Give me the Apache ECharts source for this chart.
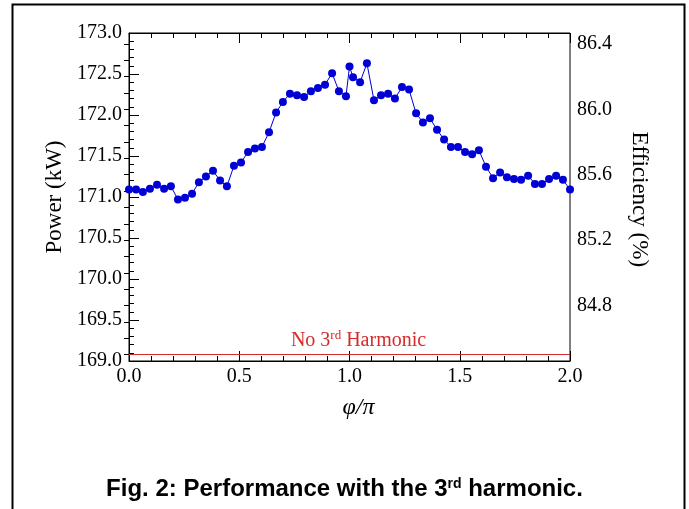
<!DOCTYPE html>
<html>
<head>
<meta charset="utf-8">
<script src="https://cdn.jsdelivr.net/npm/echarts@6/dist/echarts.min.js"></script>
<style>
html,body{margin:0;padding:0;background:#fff;}
#chart{width:689px;height:509px;}
</style>
</head>
<body>
<div id="chart"></div>
<script>
// phase angle phi/pi
const phi = [0.000, 0.032, 0.063, 0.095, 0.127, 0.159, 0.190, 0.222, 0.254, 0.286, 0.317, 0.349, 0.381, 0.413, 0.444, 0.476,
  0.508, 0.540, 0.571, 0.603, 0.635, 0.667, 0.698, 0.730, 0.762, 0.794, 0.825, 0.857, 0.889, 0.921, 0.952, 0.984,
  1.000,
  1.016, 1.048, 1.079, 1.111, 1.143, 1.175, 1.206, 1.238, 1.270, 1.302, 1.333, 1.365, 1.397, 1.429, 1.460,
  1.492, 1.524, 1.556, 1.587, 1.619, 1.651, 1.683, 1.714, 1.746, 1.778, 1.810, 1.841, 1.873, 1.905, 1.937, 1.968, 2.000];
// power (kW)
const power = [171.09, 171.09, 171.06, 171.10, 171.15, 171.10, 171.13, 170.97, 170.99, 171.04, 171.18, 171.25, 171.32, 171.20, 171.13, 171.38,
  171.42, 171.55, 171.59, 171.61, 171.79, 172.03, 172.16, 172.26, 172.24, 172.22, 172.29, 172.33, 172.37, 172.51, 172.29, 172.23,
  172.59,
  172.46, 172.40, 172.63, 172.18, 172.24, 172.26, 172.20, 172.34, 172.31, 172.02, 171.91, 171.96, 171.82, 171.70, 171.61,
  171.61, 171.55, 171.52, 171.57, 171.37, 171.23, 171.30, 171.24, 171.22, 171.21, 171.26, 171.16, 171.16, 171.22, 171.26, 171.21, 171.09];
// reference level without 3rd harmonic (kW)
const noHarmonic = 169.08;
// axis ranges
const xRange = [0, 2];
const powerRange = [169, 173];
const effRange = [84.5, 86.4];

const serif = '"Liberation Serif", "Times New Roman", serif';
const sans = '"Liberation Sans", Arial, sans-serif';
const red = '#d62a2a';
const blue = '#0000d4';

const chart = echarts.init(document.getElementById('chart'), null, {renderer: 'canvas'});
const tickCommon = {inside: true, lineStyle: {color: '#000', width: 1}};
const option = {
  animation: false,
  backgroundColor: '#fff',
  grid: [
    {left: 129, right: 119, top: 33, bottom: 148, show: true, borderColor: '#000', borderWidth: 1, backgroundColor: 'transparent'},
    {left: 129, right: 119, top: 44, bottom: 154.5, show: false}
  ],
  xAxis: [
    {
      type: 'value', gridIndex: 0, position: 'bottom', min: xRange[0], max: xRange[1], interval: 0.5,
      axisLine: {show: true, lineStyle: {color: '#000', width: 1}},
      axisTick: Object.assign({length: 10}, tickCommon),
      minorTick: {show: true, splitNumber: 5, length: 5, lineStyle: {color: '#000', width: 1}},
      splitLine: {show: false},
      axisLabel: {color: '#000', fontFamily: serif, fontSize: 20, margin: 6, formatter: v => v.toFixed(1)},
      name: 'φ/π', nameLocation: 'middle', nameGap: 35,
      nameTextStyle: {color: '#000', fontFamily: serif, fontSize: 24, fontStyle: 'italic', padding: [0, 0, 0, 18]}
    },
    {
      type: 'value', gridIndex: 0, position: 'top', min: xRange[0], max: xRange[1], interval: 0.5,
      axisLine: {show: true, lineStyle: {color: '#000', width: 1}},
      axisTick: Object.assign({length: 10}, tickCommon),
      minorTick: {show: true, splitNumber: 5, length: 5, lineStyle: {color: '#000', width: 1}},
      splitLine: {show: false},
      axisLabel: {show: false}
    },
    {
      type: 'value', gridIndex: 1, min: xRange[0], max: xRange[1], show: false
    }
  ],
  yAxis: [
    {
      type: 'value', gridIndex: 0, position: 'left', min: powerRange[0], max: powerRange[1], interval: 0.5,
      axisLine: {show: true, lineStyle: {color: '#000', width: 1}},
      axisTick: Object.assign({length: 10}, tickCommon),
      minorTick: {show: true, splitNumber: 5, length: 5, lineStyle: {color: '#000', width: 1}},
      splitLine: {show: false},
      axisLabel: {color: '#000', fontFamily: serif, fontSize: 20, margin: 7, formatter: v => v.toFixed(1)},
      name: 'Power (kW)', nameLocation: 'middle', nameGap: 62,
      nameTextStyle: {color: '#000', fontFamily: serif, fontSize: 23}
    },
    {
      type: 'value', gridIndex: 1, position: 'right', min: effRange[0], max: effRange[1], interval: 0.1,
      axisLine: {show: false},
      axisTick: Object.assign({length: 5, show: true}, tickCommon),
      splitLine: {show: false},
      axisLabel: {color: '#000', fontFamily: serif, fontSize: 20, margin: 7,
        formatter: v => (Math.round(v * 10) % 4 === 0 ? v.toFixed(1) : '')},
      name: 'Efficiency (%)', nameLocation: 'middle', nameGap: 58, nameRotate: -90,
      nameTextStyle: {color: '#000', fontFamily: serif, fontSize: 23}
    }
  ],
  series: [
    {
      type: 'line', xAxisIndex: 0, yAxisIndex: 0,
      data: phi.map((x, i) => [x, power[i]]),
      symbol: 'circle', symbolSize: 8, showSymbol: true,
      itemStyle: {color: blue},
      lineStyle: {color: blue, width: 1},
      clip: false,
      markLine: {
        silent: true, symbol: 'none', animation: false,
        lineStyle: {color: red, width: 1.2, type: 'solid'},
        data: [{yAxis: noHarmonic}],
        label: {
          show: true, position: 'middle', distance: 2, padding: [0, 0, 0, 18],
          formatter: '{a|No 3}{s|rd}{a| Harmonic}',
          rich: {
            a: {color: red, fontFamily: serif, fontSize: 20},
            s: {color: red, fontFamily: serif, fontSize: 13, verticalAlign: 'top', padding: [0, 0, 10, 0]}
          }
        }
      }
    }
  ],
  graphic: [
    {
      type: 'rect', left: 10, top: 2, shape: {width: 672, height: 520},
      style: {fill: 'none', stroke: '#000', lineWidth: 2}, silent: true, z: 100
    },
    {
      type: 'text', left: 'center', top: 477, z: 100,
      style: {
        text: '{a|Fig. 2: Performance with the 3}{s|rd}{a| harmonic.}',
        rich: {
          a: {fontFamily: sans, fontWeight: 'bold', fontSize: 24, fill: '#000'},
          s: {fontFamily: sans, fontWeight: 'bold', fontSize: 14, fill: '#000', verticalAlign: 'top', padding: [0, 0, 10, 0]}
        }
      }
    }
  ]
};
chart.setOption(option);
</script>
</body>
</html>
